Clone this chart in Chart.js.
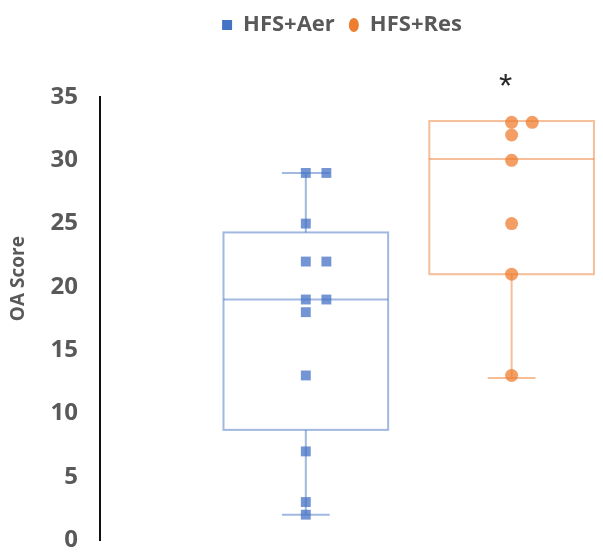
<!DOCTYPE html>
<html>
<head>
<meta charset="utf-8">
<script src="https://cdn.jsdelivr.net/npm/chart.js@4"></script>
<style>
  body { margin: 0; background: #ffffff; }
  #wrap { width: 603px; height: 556px; position: relative; }
</style>
</head>
<body>
<div id="wrap"><canvas id="chart"></canvas></div>
<script>
// groups and raw scores
var groupNames = ["HFS+Aer", "HFS+Res"];
var groupPos = [1, 2];
var aerScores = [29, 29, 25, 22, 22, 19, 19, 18, 13, 7, 3, 2];
var resScores = [33, 33, 32, 30, 25, 21, 13];

// box statistics (min, q1, median, q3, max) as drawn
var boxMin = [2, 12.8];
var boxQ1 = [8.7, 21];
var boxMedian = [19, 30.1];
var boxQ3 = [24.3, 33.1];
var boxMax = [29, 33];

var yTicks = [0, 5, 10, 15, 20, 25, 30, 35];

var fillColors = ["rgba(68,114,196,0.75)", "rgba(237,125,49,0.75)"];
var lineColors = ["rgba(68,114,196,0.5)", "rgba(237,125,49,0.5)"];
var legendColors = ["#4472C4", "#ED7D31"];

var fontFamily = "'Open Sans', 'Liberation Sans', sans-serif";

// duplicates sit side by side, like the original plot
function makePoints(scores, center)
{
    var seen = {};
    var pts = [];
    for (var i = 0; i < scores.length; i++)
    {
        var v = scores[i];
        var n = seen[v] || 0;
        pts.push({x: center + n * 0.1, y: v});
        seen[v] = n + 1;
    }
    return pts;
}

var boxPlugin = {
    id: 'boxes',
    beforeInit: function(chart)
    {
        // leave room between legend and plot, as in the original
        var fit = chart.legend.fit;
        chart.legend.fit = function() {
            fit.bind(chart.legend)();
            this.height += 51;
        };
    },
    afterLayout: function(chart)
    {
        // legend sits right of centre in the original
        chart.legend.left += 42;
        chart.legend.right += 42;
    },
    beforeDatasetsDraw: function(chart)
    {
        var ctx = chart.ctx;
        var xs = chart.scales.x;
        var ys = chart.scales.y;
        var half = 0.4, cap = 0.116;
        for (var i = 0; i < groupPos.length; i++)
        {
            var c = groupPos[i];
            var l = xs.getPixelForValue(c - half);
            var r = xs.getPixelForValue(c + half);
            var m = xs.getPixelForValue(c);
            var cl = xs.getPixelForValue(c - cap);
            var cr = xs.getPixelForValue(c + cap);
            var q1 = ys.getPixelForValue(boxQ1[i]);
            var q3 = ys.getPixelForValue(boxQ3[i]);
            var md = ys.getPixelForValue(boxMedian[i]);
            var lo = ys.getPixelForValue(boxMin[i]);
            var hi = ys.getPixelForValue(boxMax[i]);
            ctx.save();
            ctx.strokeStyle = lineColors[i];
            ctx.lineWidth = 2;
            ctx.strokeRect(l, q3, r - l, q1 - q3);
            ctx.beginPath();
            ctx.moveTo(l, md); ctx.lineTo(r, md);
            if (hi < q3) {
                ctx.moveTo(m, q3); ctx.lineTo(m, hi);
                ctx.moveTo(cl, hi); ctx.lineTo(cr, hi);
            }
            if (lo > q1) {
                ctx.moveTo(m, q1); ctx.lineTo(m, lo);
                ctx.moveTo(cl, lo); ctx.lineTo(cr, lo);
            }
            ctx.stroke();
            ctx.restore();
        }
    },
    afterDraw: function(chart)
    {
        var ctx = chart.ctx;
        var area = chart.chartArea;

        // significance mark above the second group
        var x = chart.scales.x.getPixelForValue(groupPos[1]) - 6;
        ctx.save();
        ctx.fillStyle = "#262626";
        ctx.font = "34px 'Liberation Sans', Arial, sans-serif";
        ctx.textAlign = "center";
        ctx.textBaseline = "middle";
        ctx.fillText("*", x, area.top - 9);
        ctx.restore();

        // y axis title, a little above the middle as in the original
        ctx.save();
        ctx.translate(19, area.top + (area.bottom - area.top) * 0.41);
        ctx.rotate(-Math.PI / 2);
        ctx.fillStyle = "#595959";
        ctx.font = "bold 19px " + fontFamily;
        ctx.textAlign = "center";
        ctx.textBaseline = "middle";
        ctx.fillText("OA Score", 0, 0);
        ctx.restore();
    }
};

var ctx = document.getElementById('chart').getContext('2d');
var chart = new Chart(ctx, {
    type: 'scatter',
    data: {
        datasets: [
            {
                label: groupNames[0],
                data: makePoints(aerScores, groupPos[0]),
                pointStyle: 'rect',
                pointRadius: 7,
                pointHoverRadius: 7,
                backgroundColor: fillColors[0],
                borderWidth: 0
            },
            {
                label: groupNames[1],
                data: makePoints(resScores, groupPos[1]),
                pointStyle: 'circle',
                pointRadius: 6.5,
                pointHoverRadius: 6.5,
                backgroundColor: fillColors[1],
                borderWidth: 0
            }
        ]
    },
    options: {
        responsive: true,
        maintainAspectRatio: false,
        animation: false,
        layout: { padding: { top: 0, right: 3, bottom: 16, left: 0 } },
        plugins: {
            tooltip: { enabled: false },
            legend: {
                position: 'top',
                labels: {
                    usePointStyle: true,
                    pointStyleWidth: 10,
                    boxHeight: 10,
                    padding: 14,
                    color: '#595959',
                    font: { family: fontFamily, size: 22, weight: 'bold' },
                    generateLabels: function(chart)
                    {
                        return chart.data.datasets.map(function(ds, i) {
                            return {
                                text: ds.label,
                                fillStyle: legendColors[i],
                                strokeStyle: legendColors[i],
                                lineWidth: 0,
                                pointStyle: ds.pointStyle,
                                fontColor: '#595959',
                                datasetIndex: i
                            };
                        });
                    }
                }
            }
        },
        scales: {
            x: {
                type: 'linear',
                display: false,
                min: 0,
                max: 2.41
            },
            y: {
                min: 0,
                max: 35,
                afterBuildTicks: function(scale) {
                    scale.ticks = yTicks.map(function(v) { return {value: v}; });
                },
                afterFit: function(scale) {
                    scale.width = 100;
                    scale.paddingTop = 0;
                    scale.paddingBottom = 0;
                },
                grid: { display: false, drawTicks: false },
                border: { display: true, color: '#111111', width: 2 },
                ticks: {
                    padding: 22,
                    color: '#595959',
                    font: { family: fontFamily, size: 24, weight: 'bold' }
                }
            }
        }
    },
    plugins: [boxPlugin]
});
</script>
</body>
</html>
